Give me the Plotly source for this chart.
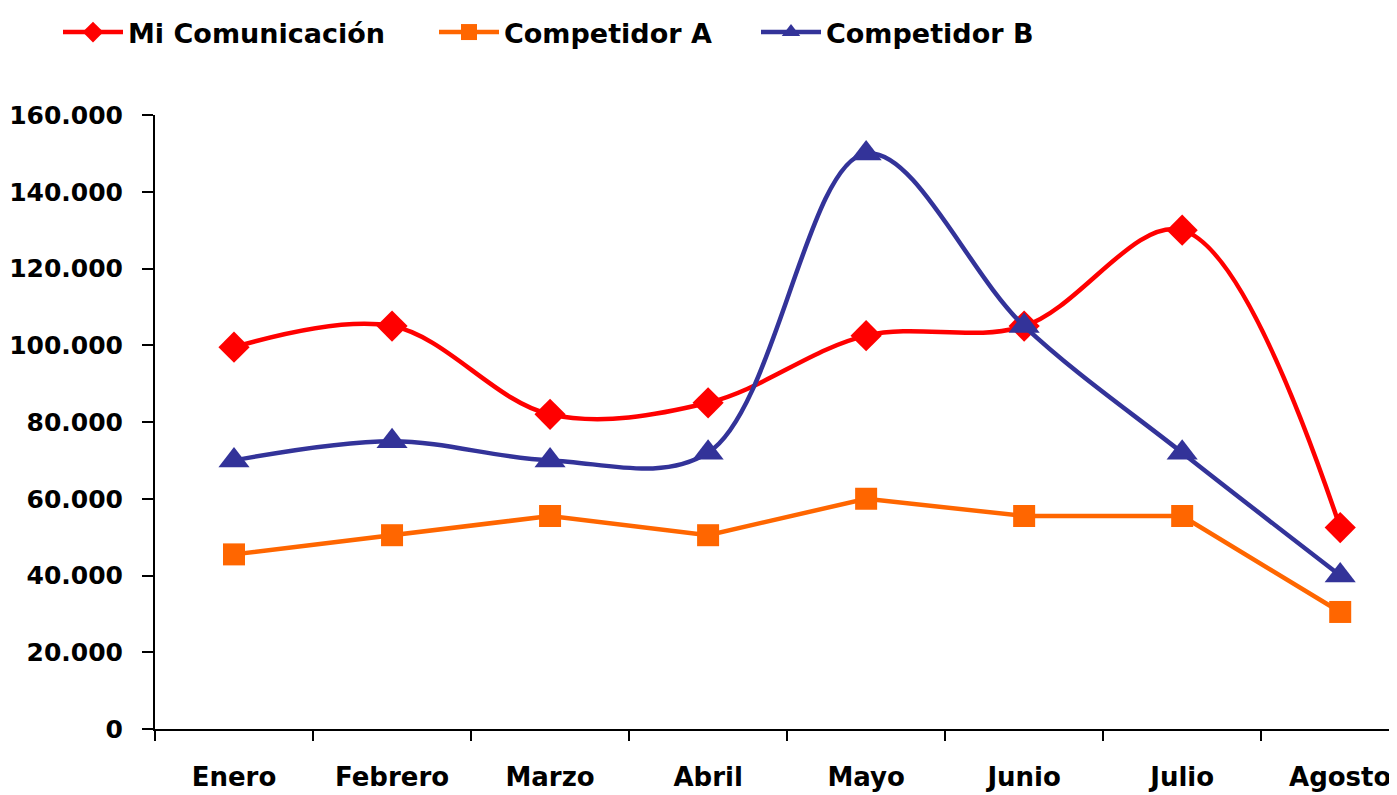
import plotly.graph_objects as go

months = ["Enero", "Febrero", "Marzo", "Abril", "Mayo", "Junio", "Julio", "Agosto"]
mi_comunicacion = [99500, 105000, 82000, 85000, 102500, 105000, 130000, 52500]
competidor_a = [45500, 50500, 55500, 50500, 60000, 55500, 55500, 30500]
competidor_b = [70000, 75000, 70000, 72000, 150000, 105000, 72000, 40000]
y_ticks = [0, 20000, 40000, 60000, 80000, 100000, 120000, 140000, 160000]

FONT = "DejaVu Sans, Arial, sans-serif"

fig = go.Figure()
fig.add_trace(go.Scatter(
    x=months, y=mi_comunicacion, name="Mi Comunicación", mode="lines+markers",
    line=dict(color="#FF0000", width=4.5, shape="spline", smoothing=1),
    marker=dict(symbol="diamond", size=24, color="#FF0000"),
    legend="legend"))
fig.add_trace(go.Scatter(
    x=months, y=competidor_a, name="Competidor A", mode="lines+markers",
    line=dict(color="#FF6600", width=4.5),
    marker=dict(symbol="square", size=22, color="#FF6600"),
    legend="legend2"))
fig.add_trace(go.Scatter(
    x=months, y=competidor_b, name="Competidor B", mode="lines+markers",
    line=dict(color="#333399", width=4.5, shape="spline", smoothing=1),
    marker=dict(symbol="triangle-up", size=27, color="#333399"),
    legend="legend3"))

legend_common = dict(orientation="h", yanchor="middle", xanchor="left",
                     font=dict(family=FONT, size=27, color="black", weight="bold"),
                     itemwidth=60, bgcolor="rgba(0,0,0,0)", borderwidth=0)
L, T = 147, 99
W = 1397 - L
def px(xp):
    return (xp - L) / W
yl = 1 + (T - 15) / 622

fig.update_layout(
    width=1397, height=795,
    margin=dict(l=L, r=0, t=T, b=795 - T - 622),
    paper_bgcolor="white", plot_bgcolor="white",
    separators=",.",
    showlegend=True,
    legend=dict(x=px(50), y=yl, **legend_common),
    legend2=dict(x=px(426), y=yl, **legend_common),
    legend3=dict(x=px(748), y=yl, **legend_common),
    xaxis=dict(
        type="category", range=[-0.5, 7.41], showgrid=False, zeroline=False,
        showline=True, linecolor="black", linewidth=2, automargin=False,
        ticks="outside", tickson="boundaries", ticklen=10, tickwidth=2, tickcolor="black",
        tickfont=dict(family=FONT, size=26, color="black", weight="bold"),
        ticklabelstandoff=24,
    ),
    yaxis=dict(
        range=[0, 160000], tickvals=y_ticks, tickformat=",d", showgrid=False, zeroline=False,
        showline=True, linecolor="black", linewidth=2, automargin=False,
        ticks="outside", ticklen=11, tickwidth=2, tickcolor="black",
        tickfont=dict(family=FONT, size=25, color="black", weight="bold"),
        ticklabelstandoff=14,
    ),
)

fig.write_html("out.html")
